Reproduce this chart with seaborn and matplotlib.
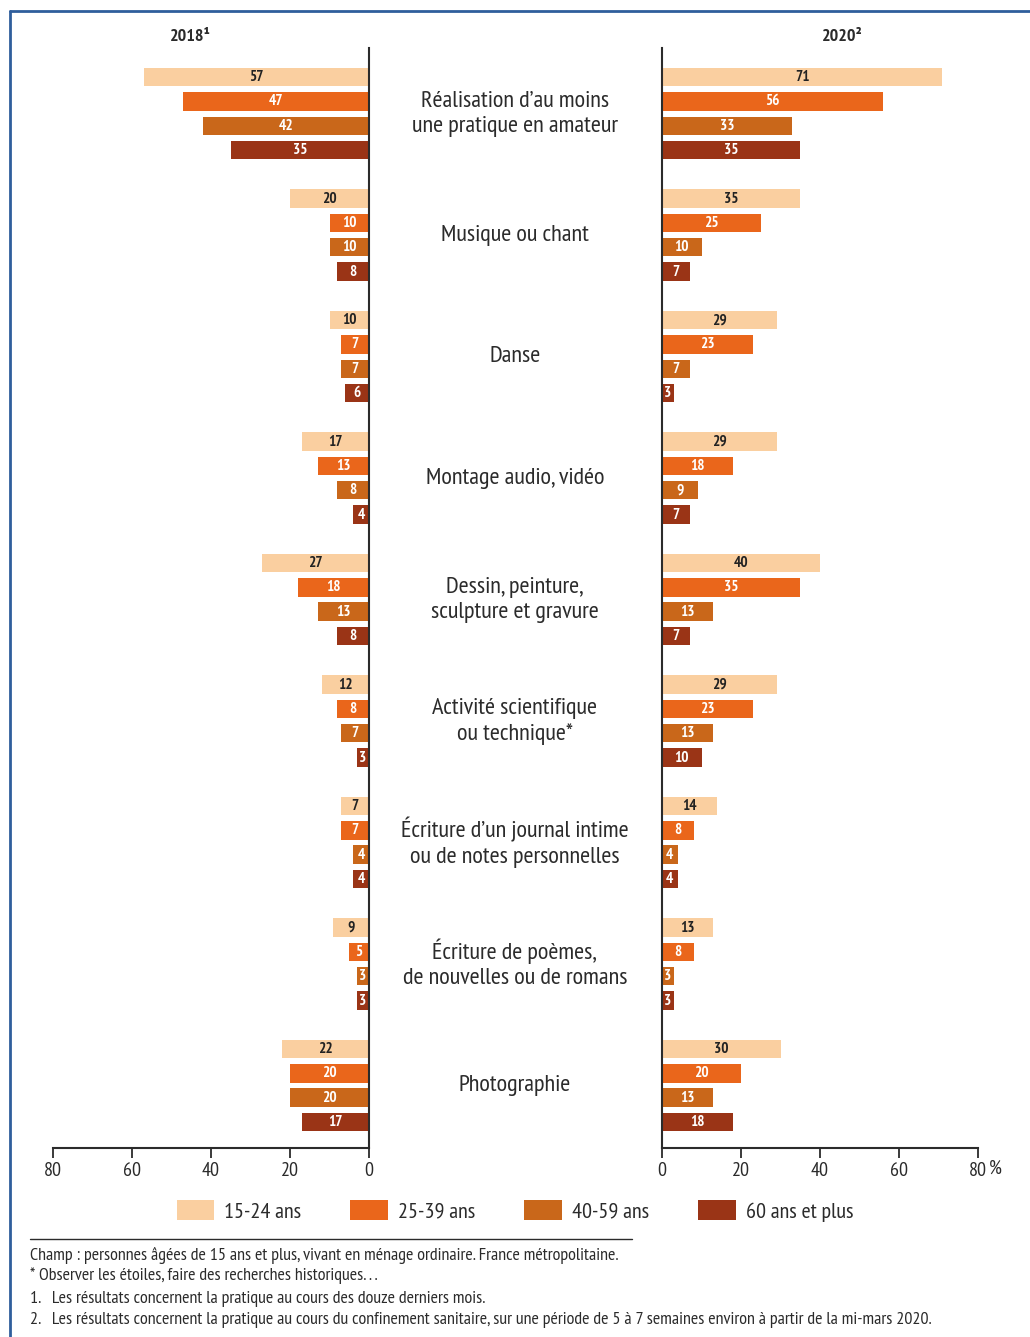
import numpy as np
import pandas as pd
import matplotlib
matplotlib.use("Agg")
import matplotlib.pyplot as plt
import matplotlib.transforms as mtransforms
from matplotlib.lines import Line2D
from matplotlib.patches import Patch
from matplotlib import font_manager
import seaborn as sns

# ── Data ──────────────────────────────────────────────────────────────────────
activities = [
    "Réalisation d’au moins\nune pratique en amateur",
    "Musique ou chant",
    "Danse",
    "Montage audio, vidéo",
    "Dessin, peinture,\nsculpture et gravure",
    "Activité scientifique\nou technique*",
    "Écriture d’un journal intime\nou de notes personnelles",
    "Écriture de poèmes,\nde nouvelles ou de romans",
    "Photographie",
]
age_groups = ["15-24 ans", "25-39 ans", "40-59 ans", "60 ans et plus"]

values_2018 = [
    [57, 47, 42, 35],
    [20, 10, 10, 8],
    [10, 7, 7, 6],
    [17, 13, 8, 4],
    [27, 18, 13, 8],
    [12, 8, 7, 3],
    [7, 7, 4, 4],
    [9, 5, 3, 3],
    [22, 20, 20, 17],
]
values_2020 = [
    [71, 56, 33, 35],
    [35, 25, 10, 7],
    [29, 23, 7, 3],
    [29, 18, 9, 7],
    [40, 35, 13, 7],
    [29, 23, 13, 10],
    [14, 8, 4, 4],
    [13, 8, 3, 3],
    [30, 20, 13, 18],
]
ticks = [0, 20, 40, 60, 80]

colours = {
    "15-24 ans": "#FACFA0",
    "25-39 ans": "#EA661B",
    "40-59 ans": "#C9671A",
    "60 ans et plus": "#9A3416",
}
label_colours = {
    "15-24 ans": "#222222",
    "25-39 ans": "white",
    "40-59 ans": "white",
    "60 ans et plus": "white",
}

footnotes = [
    "Champ : personnes âgées de 15 ans et plus, vivant en ménage ordinaire. France métropolitaine.",
    "* Observer les étoiles, faire des recherches historiques. . .",
    "1.   Les résultats concernent la pratique au cours des douze derniers mois.",
    "2.   Les résultats concernent la pratique au cours du confinement sanitaire, sur une période de 5 à 7 semaines environ à partir de la mi-mars 2020.",
]

SLOTS = 5  # 4 bars + 1 gap per activity


def to_frame(values):
    rows = []
    for g, vals in enumerate(values):
        for j, v in enumerate(vals):
            rows.append({"slot": g * SLOTS + j, "age": age_groups[j], "value": v})
    return pd.DataFrame(rows)


df18 = to_frame(values_2018)
df20 = to_frame(values_2020)

# ── Style ─────────────────────────────────────────────────────────────────────
sns.set_style("white")
names = {f.name for f in font_manager.fontManager.ttflist}
NARROW = "DejaVu Sans"
for cand in ["PT Sans Narrow", "Roboto Condensed", "Asap Condensed",
             "Archivo Narrow", "Liberation Sans Narrow"]:
    if cand in names:
        NARROW = cand
        break
plt.rcParams["font.family"] = [NARROW, "DejaVu Sans"]
INK = "#2b2b2b"

fig = plt.figure(figsize=(10.30, 13.37), dpi=100)
ax_l = fig.add_axes([53 / 1030, 1 - 1148 / 1337, 316 / 1030, 1100 / 1337])
ax_r = fig.add_axes([662 / 1030, 1 - 1148 / 1337, 316 / 1030, 1100 / 1337])

n_slots = len(activities) * SLOTS
ylim = (n_slots - SLOTS + 3 + 1.07, -1.2)

for ax, df in ((ax_l, df18), (ax_r, df20)):
    sns.barplot(
        data=df, x="value", y="slot", hue="age", hue_order=age_groups,
        palette=colours, saturation=1, orient="h", native_scale=True,
        dodge=False, width=0.76, linewidth=0, errorbar=None, legend=False,
        ax=ax,
    )
    for _, row in df.iterrows():
        ax.text(row["value"] / 2, row["slot"], f"{row['value']}",
                ha="center", va="center", fontsize=11, fontweight="bold",
                color=label_colours[row["age"]])
    ax.set_ylim(*ylim)
    ax.set_yticks([])
    ax.set_xticks(ticks)
    ax.set_xlabel("")
    ax.set_ylabel("")
    ax.tick_params(axis="x", direction="out", length=7, width=1.3,
                   colors=INK, labelsize=14.5, pad=3, bottom=True)
    for s in ax.spines.values():
        s.set_color(INK)
        s.set_linewidth(1.5)
    ax.spines["top"].set_visible(False)
    ax.set_facecolor("none")

ax_l.set_xlim(80, 0)
ax_l.spines["left"].set_visible(False)
ax_r.set_xlim(0, 80)
ax_r.spines["right"].set_visible(False)

ax_r.annotate("%", xy=(80, 0), xycoords=ax_r.get_xaxis_transform(),
              xytext=(8, -8.3), textcoords="offset points",
              ha="left", va="top", fontsize=14.5, color=INK)

# panel titles
fig.text(190 / 1030, 1 - 37 / 1337, "2018¹", ha="center", va="center",
         fontsize=13, fontweight="bold", color=INK)
fig.text(842 / 1030, 1 - 37 / 1337, "2020²", ha="center", va="center",
         fontsize=13, fontweight="bold", color=INK)

# activity labels in the middle
trans = mtransforms.blended_transform_factory(fig.transFigure, ax_l.transData)
for g, name in enumerate(activities):
    fig.text(515 / 1030, g * SLOTS + 1.5, name, transform=trans,
             ha="center", va="center", fontsize=17.5, color=INK,
             linespacing=1.25)

# legend
handles = [Patch(facecolor=colours[a], edgecolor="none", label=a) for a in age_groups]
fig.legend(handles=handles, loc="center", bbox_to_anchor=(0.5, 1 - 1211 / 1337),
           ncol=4, frameon=False, fontsize=16, handlelength=1.7, handleheight=0.95,
           handletextpad=0.45, columnspacing=2.2, labelcolor=INK)

# footnotes
fig.add_artist(Line2D([30 / 1030, 632 / 1030], [1 - 1239 / 1337] * 2,
                      transform=fig.transFigure, color=INK, lw=1))
for txt, ypx in zip(footnotes, [1255, 1276, 1299, 1320]):
    fig.text(30 / 1030, 1 - ypx / 1337, txt, ha="left", va="center",
             fontsize=13, color=INK)

# blue frame
frame = "#2F5E9C"
fig.add_artist(Line2D([10 / 1030, 1.0], [1 - 11 / 1337] * 2,
                      transform=fig.transFigure, color=frame, lw=2))
fig.add_artist(Line2D([10 / 1030] * 2, [0.0, 1 - 11 / 1337],
                      transform=fig.transFigure, color=frame, lw=2))

fig.savefig("out.png", dpi=100, facecolor="white")
